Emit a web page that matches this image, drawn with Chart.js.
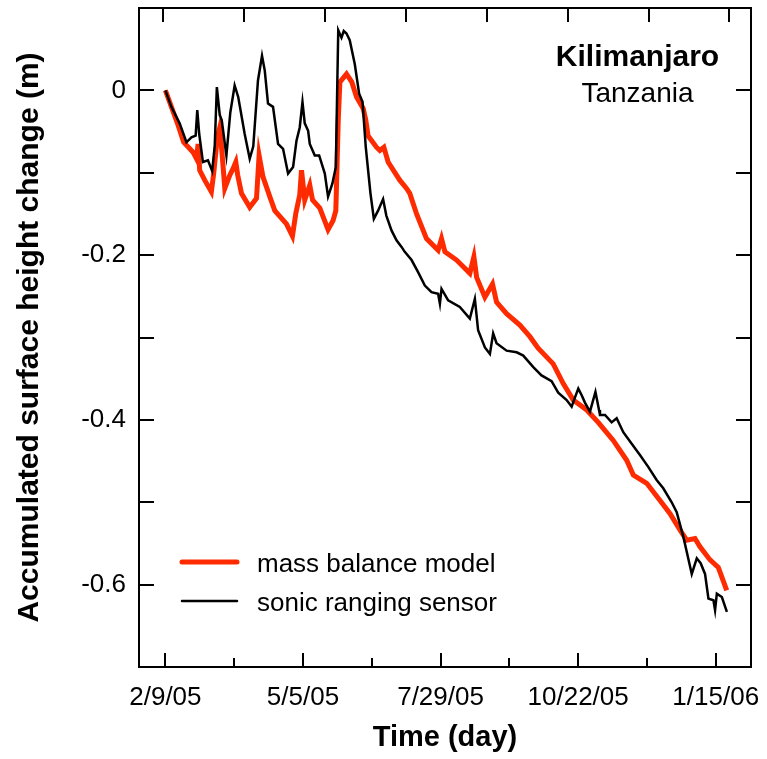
<!DOCTYPE html>
<html>
<head>
<meta charset="utf-8">
<script src="https://cdn.jsdelivr.net/npm/chart.js@4.4.0/dist/chart.umd.min.js"></script>
<style>
  html, body { margin: 0; padding: 0; background: #fff; }
  #wrap { width: 767px; height: 759px; }
</style>
</head>
<body>
<div id="wrap"><canvas id="kiliChart" width="767" height="759"></canvas></div>
<script>
// Datos (día del año, cambio de altura en m)
const modelDays = [40, 47.8, 51.3, 57.1, 59.2, 60.2, 61.2, 64.3, 68.4, 69.9, 72.1, 73.6, 75, 76.7, 79.8, 81.8, 83.5, 84.7, 87, 92.1,
    96.3, 97.9, 100.3, 104.5, 107.6, 114.8, 118.5, 120.6, 123, 124.1, 126.1, 129.2, 130.9, 135.4, 140.5, 143.6, 145.3, 146.8, 147.8, 151.9,
    155.2, 158.1, 162.2, 163.8, 165.2, 170.4, 172.5, 175, 177.6, 184.8, 189, 191, 195.2, 201.3, 208.5, 210.6, 212.7, 219.9, 228.1, 230.6,
    232.3, 237.4, 242.1, 244.6, 250.8, 259, 265.2, 270.3, 279.6, 285.8, 292, 300.3, 307.4, 316.7, 325, 329.1, 337.4, 345.6, 351.8, 358,
    362.1, 367.2, 370.3, 376.5, 381.6, 386.8];
const modelValues = [0, -0.042, -0.063, -0.075, -0.083, -0.065, -0.097, -0.109, -0.123, -0.100, -0.057, -0.045, -0.076, -0.119, -0.103, -0.095, -0.087, -0.103, -0.125, -0.142,
    -0.131, -0.079, -0.105, -0.129, -0.146, -0.162, -0.177, -0.149, -0.127, -0.097, -0.133, -0.115, -0.133, -0.143, -0.169, -0.158, -0.146, -0.036, 0.010, 0.020,
    0.010, -0.008, -0.022, -0.036, -0.055, -0.069, -0.073, -0.069, -0.087, -0.109, -0.119, -0.125, -0.150, -0.180, -0.194, -0.180, -0.196, -0.206, -0.222, -0.202,
    -0.227, -0.251, -0.235, -0.257, -0.271, -0.285, -0.299, -0.313, -0.332, -0.356, -0.376, -0.388, -0.403, -0.425, -0.449, -0.467, -0.477, -0.498, -0.514, -0.534,
    -0.546, -0.544, -0.554, -0.570, -0.579, -0.607];

const sonicDays = [40, 43.7, 48.8, 53, 56.1, 58.7, 59.7, 60.9, 63.2, 66.3, 68.9, 70.5, 71.8, 73.6, 74.8, 77.7, 80.1, 82.8, 85, 89,
    92.1, 94.3, 97.2, 99.7, 101.4, 103.4, 106.5, 109.6, 112.7, 115.8, 118.9, 121, 123, 124.7, 126.1, 128.2, 129.2, 132.3, 135, 138.5,
    140.5, 143.2, 145.3, 146.8, 148.8, 150.2, 151.9, 153.9, 157, 159.7, 161.8, 163.8, 166.7, 168.8, 171.4, 174.5, 176.5, 179.7, 182.8, 185.9,
    187.9, 192.1, 196.2, 200.3, 204.4, 208.5, 209.6, 210.6, 214.7, 221.9, 228.1, 231.2, 233.2, 237.4, 240.5, 242.5, 244.6, 250.8, 257, 261.1,
    267.3, 272.4, 278.6, 282.7, 287.9, 291, 293, 295.1, 297.2, 299.2, 302.3, 305.7, 307.9, 308.5, 311.6, 315.7, 318.8, 322.9, 328.1, 333.3,
    338.3, 343.5, 347.6, 352.8, 355.9, 360, 362.1, 365.2, 368.3, 370.7, 373.4, 375.5, 378.6, 379.6, 380.7, 383.8, 386.9];
const sonicValues = [0, -0.020, -0.040, -0.063, -0.057, -0.055, -0.024, -0.053, -0.087, -0.085, -0.098, -0.067, 0.004, -0.030, -0.036, -0.079, -0.027, 0.006, -0.008, -0.053,
    -0.083, -0.068, 0.012, 0.042, 0.024, -0.016, -0.020, -0.065, -0.071, -0.101, -0.093, -0.061, -0.045, -0.014, -0.040, -0.049, -0.065, -0.079, -0.079, -0.101,
    -0.129, -0.113, -0.093, 0.073, 0.064, 0.072, 0.069, 0.061, 0.032, -0.004, -0.014, -0.069, -0.125, -0.156, -0.146, -0.132, -0.152, -0.170, -0.182, -0.190,
    -0.196, -0.206, -0.221, -0.237, -0.245, -0.247, -0.259, -0.241, -0.255, -0.263, -0.277, -0.253, -0.291, -0.312, -0.320, -0.295, -0.307, -0.316, -0.318, -0.322,
    -0.336, -0.346, -0.353, -0.367, -0.376, -0.384, -0.373, -0.362, -0.370, -0.379, -0.390, -0.366, -0.388, -0.394, -0.394, -0.403, -0.398, -0.415, -0.429, -0.443,
    -0.457, -0.473, -0.483, -0.500, -0.512, -0.542, -0.560, -0.587, -0.568, -0.574, -0.587, -0.617, -0.619, -0.631, -0.611, -0.615, -0.633];

// Ejes
const dateTickDays = [40, 125, 210, 295, 380];
const dateTickLabels = ['2/9/05', '5/5/05', '7/29/05', '10/22/05', '1/15/06'];
const dateMinorDays = [82.5, 167.5, 252.5, 337.5];
const topTickDays = [38.5, 88.5, 138.5, 188.5, 238.5, 288.5, 338.5, 388.5];
const heightTicks = [0, -0.2, -0.4, -0.6];
const heightTickLabels = ['0', '-0.2', '-0.4', '-0.6'];
const heightMinorTicks = [0, -0.1, -0.2, -0.3, -0.4, -0.5, -0.6];

const seriesLabels = ['mass balance model', 'sonic ranging sensor'];
const FONT = '"Liberation Sans", Arial, Helvetica, sans-serif';
const RED = '#ff2b00';

// Marco y marcas hacia dentro
const frameTicks = {
    id: 'frameTicks',
    afterDatasetsDraw(chart) {
        const { ctx, chartArea: a, scales: { x, y } } = chart;
        ctx.save();
        ctx.strokeStyle = '#000';
        ctx.lineWidth = 2;
        ctx.strokeRect(a.left, a.top, a.right - a.left, a.bottom - a.top);
        ctx.beginPath();
        dateTickDays.forEach(d => {
            const px = Math.round(x.getPixelForValue(d));
            ctx.moveTo(px, a.bottom); ctx.lineTo(px, a.bottom - 14);
        });
        dateMinorDays.forEach(d => {
            const px = Math.round(x.getPixelForValue(d));
            ctx.moveTo(px, a.bottom); ctx.lineTo(px, a.bottom - 9);
        });
        topTickDays.forEach(d => {
            const px = Math.round(x.getPixelForValue(d));
            ctx.moveTo(px, a.top); ctx.lineTo(px, a.top + 14);
        });
        heightMinorTicks.forEach(v => {
            const py = Math.round(y.getPixelForValue(v));
            ctx.moveTo(a.left, py); ctx.lineTo(a.left + 15, py);
            ctx.moveTo(a.right, py); ctx.lineTo(a.right - 15, py);
        });
        ctx.stroke();
        ctx.restore();
    }
};

// Leyenda y rótulo del sitio
const legendText = {
    id: 'legendText',
    afterDraw(chart) {
        const ctx = chart.ctx;
        const ds = chart.data.datasets;
        ctx.save();
        ctx.lineCap = 'round';
        [562, 601].forEach((ly, i) => {
            ctx.strokeStyle = ds[i].borderColor;
            ctx.lineWidth = i === 0 ? 5 : 2.5;
            ctx.beginPath();
            ctx.moveTo(182, ly); ctx.lineTo(237, ly);
            ctx.stroke();
            ctx.fillStyle = '#000';
            ctx.font = '26px ' + FONT;
            ctx.textAlign = 'left';
            ctx.textBaseline = 'alphabetic';
            ctx.fillText(ds[i].label, 257, ly + 9.5);
        });
        ctx.textAlign = 'center';
        ctx.font = 'bold 30px ' + FONT;
        ctx.fillText('Kilimanjaro', 637.5, 66);
        ctx.font = '28px ' + FONT;
        ctx.fillText('Tanzania', 637.5, 102);
        ctx.restore();
    }
};

const toPoints = (xs, ys) => xs.map((d, i) => ({ x: d, y: ys[i] }));

new Chart(document.getElementById('kiliChart'), {
    type: 'line',
    data: {
        datasets: [{
            label: seriesLabels[0],
            data: toPoints(modelDays, modelValues),
            borderColor: RED,
            borderWidth: 5,
            pointRadius: 0,
            tension: 0,
            order: 2
        }, {
            label: seriesLabels[1],
            data: toPoints(sonicDays, sonicValues),
            borderColor: '#000',
            borderWidth: 2.5,
            pointRadius: 0,
            tension: 0,
            order: 1
        }]
    },
    options: {
        responsive: false,
        animation: false,
        layout: { padding: { top: 8, right: 16, left: 0, bottom: 0 } },
        plugins: {
            legend: { display: false },
            tooltip: { enabled: false }
        },
        scales: {
            x: {
                type: 'linear',
                min: 23.7,
                max: 401.8,
                grid: { display: false, drawTicks: false },
                border: { display: false },
                afterBuildTicks: s => { s.ticks = dateTickDays.map(v => ({ value: v })); },
                afterFit: s => { s.height = 92; s.paddingLeft = 0; s.paddingRight = 0; },
                ticks: {
                    padding: 15,
                    color: '#000',
                    font: { family: FONT, size: 26 },
                    maxRotation: 0,
                    callback: v => dateTickLabels[dateTickDays.indexOf(v)]
                },
                title: {
                    display: true,
                    text: 'Time (day)',
                    color: '#000',
                    font: { family: FONT, size: 29, weight: 'bold' },
                    padding: { top: 0, bottom: 4 }
                }
            },
            y: {
                min: -0.7,
                max: 0.1,
                grid: { display: false, drawTicks: false },
                border: { display: false },
                afterBuildTicks: s => { s.ticks = heightTicks.map(v => ({ value: v })); },
                afterFit: s => { s.width = 139; s.paddingTop = 0; s.paddingBottom = 0; },
                ticks: {
                    padding: 13,
                    color: '#000',
                    font: { family: FONT, size: 26 },
                    callback: v => heightTickLabels[heightTicks.indexOf(v)]
                },
                title: {
                    display: true,
                    text: 'Accumulated surface height change (m)',
                    color: '#000',
                    font: { family: FONT, size: 30, weight: 'bold' },
                    padding: { top: 12, bottom: 0 }
                }
            }
        }
    },
    plugins: [frameTicks, legendText]
});
</script>
</body>
</html>
